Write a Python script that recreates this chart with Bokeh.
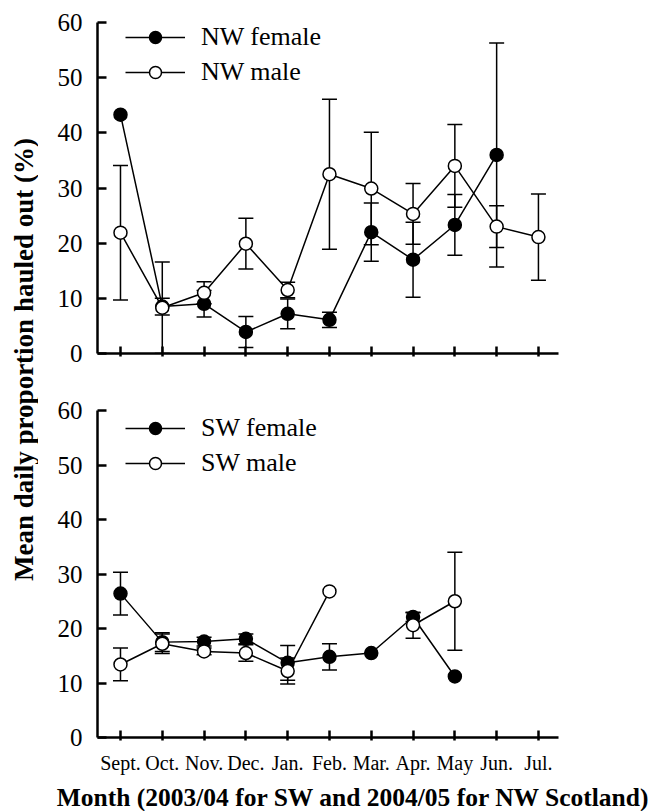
import math
from bokeh.plotting import figure
from bokeh.layouts import row, column
from bokeh.models import (Whisker, TeeHead, ColumnDataSource, Legend, LegendItem,
                          Label, FixedTicker, Range1d)
from bokeh.embed import file_html
from bokeh.resources import INLINE

nan = float("nan")

months = ["Sept.", "Oct.", "Nov.", "Dec.", "Jan.", "Feb.", "Mar.", "Apr.", "May", "Jun.", "Jul."]

nw_female = [43.3, 8.5, 9.0, 3.9, 7.2, 6.1, 22.0, 17.0, 23.3, 36.0, nan]
nw_female_err = [0, 1.5, 2.4, 2.8, 2.7, 1.4, 5.3, 6.8, 5.5, 20.3, nan]
nw_male = [21.9, 8.3, 11.0, 19.9, 11.5, 32.5, 29.9, 25.3, 34.0, 23.0, 21.1]
nw_male_err = [12.2, 8.3, 2.0, 4.6, 1.4, 13.6, 10.2, 5.5, 7.5, 3.8, 7.8]

sw_female = [26.4, 17.5, 17.6, 18.1, 13.7, 14.8, 15.5, 22.1, 11.2, nan, nan]
sw_female_err = [3.9, 1.7, 0.8, 0.9, 3.2, 2.4, 0, 0.8, 0, nan, nan]
sw_male = [13.4, 17.2, 15.8, 15.5, 12.2, 26.8, nan, 20.6, 25.0, nan, nan]
sw_male_err = [3.0, 1.8, 0.6, 1.5, 2.4, 0, nan, 2.4, 9.0, nan, nan]

y_ticks = [0, 10, 20, 30, 40, 50, 60]
x_title = "Month (2003/04 for SW and 2004/05 for NW Scotland)"
y_title = "Mean daily proportion hauled out (%)"

SERIF = "Liberation Serif"
xs = list(range(len(months)))


def err_source(vals, errs):
    bx, lo, hi = [], [], []
    for i, (v, e) in enumerate(zip(vals, errs)):
        if v is None or e is None or math.isnan(v) or math.isnan(e) or e <= 0:
            continue
        bx.append(i)
        lo.append(max(v - e, 0))
        hi.append(v + e)
    return ColumnDataSource(dict(x=bx, lower=lo, upper=hi))


def make_panel(female, female_err, male, male_err, labels, height, btop, bbottom,
               show_xlabels, legend_y, legend_spacing):
    p = figure(width=616, height=height, output_backend="svg", toolbar_location=None,
               x_range=Range1d(-0.55, 10.48), y_range=Range1d(0, 60),
               min_border_left=59, min_border_right=96,
               min_border_top=btop, min_border_bottom=bbottom)
    p.outline_line_color = None
    p.grid.visible = False
    p.background_fill_color = "white"

    p.yaxis.ticker = FixedTicker(ticks=y_ticks)
    p.yaxis.minor_tick_line_color = None
    p.yaxis.major_tick_in = 9
    p.yaxis.major_tick_out = 0
    p.yaxis.axis_line_width = 2.5
    p.yaxis.major_tick_line_width = 2.5
    p.yaxis.major_label_text_font = SERIF
    p.yaxis.major_label_text_font_size = "25px"
    p.yaxis.major_label_text_color = "black"
    p.yaxis.major_label_standoff = 15

    p.xaxis.ticker = FixedTicker(ticks=xs)
    p.xaxis.minor_tick_line_color = None
    p.xaxis.major_tick_in = 7
    p.xaxis.major_tick_out = 3
    p.xaxis.axis_line_width = 2.5
    p.xaxis.major_tick_line_width = 2.5
    if show_xlabels:
        p.xaxis.major_label_overrides = {i: m for i, m in enumerate(months)}
        p.xaxis.major_label_text_font = SERIF
        p.xaxis.major_label_text_font_size = "20px"
        p.xaxis.major_label_text_color = "black"
        p.xaxis.major_label_standoff = 11
    else:
        p.xaxis.major_label_overrides = {i: "" for i in xs}
        p.xaxis.major_label_standoff = 0

    for vals, errs in ((female, female_err), (male, male_err)):
        src = err_source(vals, errs)
        w = Whisker(source=src, base="x", upper="upper", lower="lower",
                    line_color="black", line_width=1.5,
                    upper_head=TeeHead(size=15, line_width=1.5, line_color="black"),
                    lower_head=TeeHead(size=15, line_width=1.5, line_color="black"))
        p.add_layout(w)

    lf = p.line(xs, female, line_color="black", line_width=1.5)
    sf = p.scatter(xs, female, size=13, fill_color="black", line_color="black", line_width=1.5)
    lm = p.line(xs, male, line_color="black", line_width=1.5)
    sm = p.scatter(xs, male, size=13, fill_color="white", line_color="black", line_width=1.5)

    legend = Legend(items=[LegendItem(label=labels[0], renderers=[lf, sf]),
                           LegendItem(label=labels[1], renderers=[lm, sm])],
                    location=(28, legend_y), padding=0, margin=0,
                    glyph_width=60, glyph_height=30, label_height=30,
                    label_standoff=16, spacing=legend_spacing,
                    label_text_font=SERIF, label_text_font_size="26px",
                    label_text_color="black",
                    border_line_color=None, background_fill_alpha=0)
    p.add_layout(legend)
    return p


top = make_panel(nw_female, nw_female_err, nw_male, nw_male_err,
                 ("NW female", "NW male"), 380, 22, 27, False, 266, 5)
bottom = make_panel(sw_female, sw_female_err, sw_male, sw_male_err,
                    ("SW female", "SW male"), 396, 30, 38, True, 259, 5)

ytf = figure(width=38, height=776, output_backend="svg", toolbar_location=None,
             x_axis_type=None, y_axis_type=None, min_border=0,
             x_range=Range1d(0, 1), y_range=Range1d(0, 1))
ytf.outline_line_color = None
ytf.grid.visible = False
ytf.add_layout(Label(x=23, y=417, x_units="screen", y_units="screen", text=y_title,
                     angle=math.pi / 2, text_align="center", text_baseline="middle",
                     text_font=SERIF, text_font_style="bold",
                     text_font_size="27px", text_color="black"))

xtf = figure(width=654, height=35, output_backend="svg", toolbar_location=None,
             x_axis_type=None, y_axis_type=None, min_border=0,
             x_range=Range1d(0, 1), y_range=Range1d(0, 1))
xtf.outline_line_color = None
xtf.grid.visible = False
xtf.add_layout(Label(x=353, y=14, x_units="screen", y_units="screen", text=x_title,
                     text_align="center", text_baseline="middle",
                     text_font=SERIF, text_font_style="bold",
                     text_font_size="25.5px", text_color="black"))

layout = column(row(ytf, column(top, bottom)), xtf)

open("out.html", "w").write(file_html(layout, INLINE))
